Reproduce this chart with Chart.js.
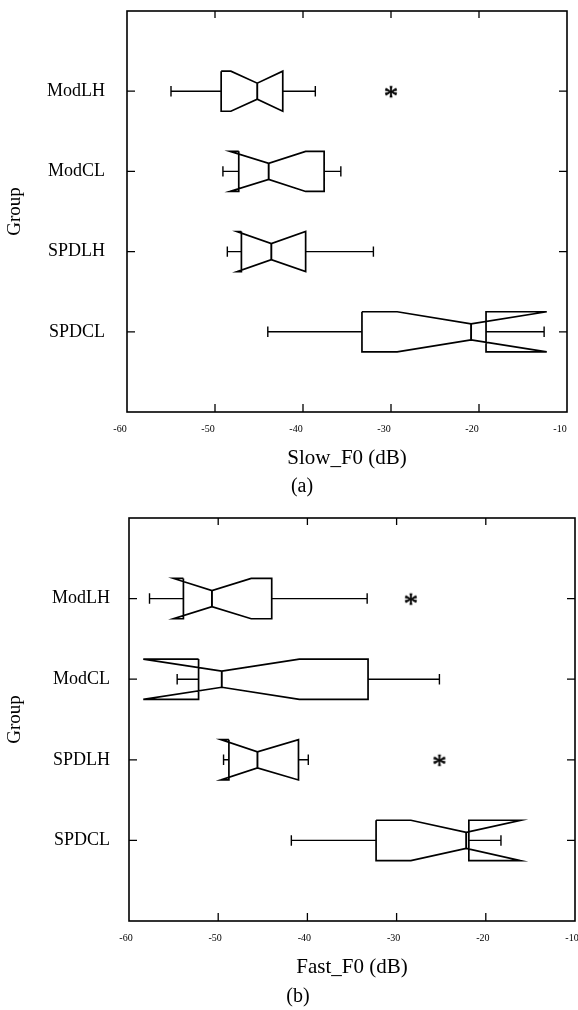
<!DOCTYPE html>
<html>
<head>
<meta charset="utf-8">
<script src="https://cdn.jsdelivr.net/npm/chart.js@4"></script>
<style>
  body { margin: 0; background: #fff; width: 578px; height: 1010px; position: relative; overflow: hidden; }
  canvas { position: absolute; left: 0; }
  .cap { position: absolute; font: 20px "Liberation Serif", serif; color: #000; width: 60px; text-align: center; line-height: 20px; will-change: transform; -webkit-font-smoothing: antialiased; }
</style>
</head>
<body>
<canvas id="slow" width="590" height="475" style="top:0"></canvas>
<div class="cap" style="left:272px; top:475px">(a)</div>
<canvas id="fast" width="590" height="494" style="top:490px"></canvas>
<div class="cap" style="left:268px; top:985px">(b)</div>
<script>
const groups = ['ModLH', 'ModCL', 'SPDLH', 'SPDCL'];
const xTicks = [-60, -50, -40, -30, -20, -10];

// (a) Slow_F0 (dB)
const slowMin     = [-55.0, -49.1, -48.6, -44.0];
const slowQ1      = [-49.3, -47.3, -47.0, -33.3];
const slowNotchLo = [-48.2, -48.3, -47.5, -29.3];
const slowMedian  = [-45.2, -43.9, -43.6, -20.9];
const slowNotchHi = [-42.3, -39.7, -39.7, -12.3];
const slowQ3      = [-42.3, -37.6, -39.7, -19.2];
const slowMax     = [-38.6, -35.7, -32.0, -12.6];
const slowOutGroup = ['ModLH'];
const slowOutValue = [-30.0];

// (b) Fast_F0 (dB)
const fastMin     = [-57.7, -54.6, -49.4, -41.8];
const fastQ1      = [-53.9, -52.2, -48.8, -32.3];
const fastNotchLo = [-55.0, -58.4, -49.7, -28.4];
const fastMedian  = [-50.7, -49.6, -45.6, -22.2];
const fastNotchHi = [-46.3, -40.9, -41.0, -16.1];
const fastQ3      = [-44.0, -33.2, -41.0, -21.9];
const fastMax     = [-33.3, -25.2, -39.9, -18.3];
const fastOutGroup = ['ModLH', 'SPDLH'];
const fastOutValue = [-28.4, -25.2];

// box half height, notch half height, whisker cap half height (category units)
const W = 0.25, N = 0.1, C = 0.065;
const serif = '"Liberation Serif", "Times New Roman", serif';

function starImage() {
  const c = document.createElement('canvas');
  c.width = 20; c.height = 20;
  const g = c.getContext('2d');
  g.font = '29px ' + serif;
  g.fillStyle = '#000';
  g.strokeStyle = '#000';
  g.lineWidth = 0.6;
  g.textAlign = 'center';
  const m = g.measureText('*');
  const by = 10 + (m.actualBoundingBoxAscent - m.actualBoundingBoxDescent) / 2;
  g.fillText('*', 10, by);
  g.strokeText('*', 10, by);
  return c;
}
const star = starImage();

function line(points, width) {
  return {
    data: points, showLine: true, fill: false, tension: 0,
    borderColor: '#000', borderWidth: width, pointRadius: 0
  };
}

const frame = {
  id: 'frame',
  afterDatasetsDraw(chart) {
    const {ctx, chartArea: a, scales: {x, y}} = chart;
    ctx.save();
    ctx.strokeStyle = '#000';
    ctx.lineWidth = 1.6;
    ctx.strokeRect(a.left, a.top, a.right - a.left, a.bottom - a.top);
    ctx.lineWidth = 1.3;
    ctx.beginPath();
    x.ticks.forEach(t => {
      const px = x.getPixelForValue(t.value);
      if (px <= a.left + 1 || px >= a.right - 1) return;
      ctx.moveTo(px, a.bottom); ctx.lineTo(px, a.bottom - 8);
      ctx.moveTo(px, a.top); ctx.lineTo(px, a.top + 7);
    });
    y.ticks.forEach(t => {
      const py = y.getPixelForValue(t.value);
      ctx.moveTo(a.left, py); ctx.lineTo(a.left + 8, py);
      ctx.moveTo(a.right, py); ctx.lineTo(a.right - 8, py);
    });
    ctx.stroke();
    ctx.restore();
  }
};

function makeChart(id, d, area) {
  const datasets = [];
  groups.forEach((g, i) => {
    const y = i + 1;
    datasets.push(line([
      {x: d.q1[i], y: y - W}, {x: d.q1[i], y: y + W},
      {x: d.lo[i], y: y + W}, {x: d.med[i], y: y + N},
      {x: d.hi[i], y: y + W}, {x: d.q3[i], y: y + W},
      {x: d.q3[i], y: y - W}, {x: d.hi[i], y: y - W},
      {x: d.med[i], y: y - N}, {x: d.lo[i], y: y - W},
      {x: d.q1[i], y: y - W}
    ], 1.7));
    datasets.push(line([{x: d.med[i], y: y - N}, {x: d.med[i], y: y + N}], 1.9));
    datasets.push(line([
      {x: d.min[i], y: y - C}, {x: d.min[i], y: y + C},
      {x: d.min[i], y: y}, {x: d.q1[i], y: y}
    ], 1.4));
    datasets.push(line([
      {x: d.q3[i], y: y}, {x: d.max[i], y: y},
      {x: d.max[i], y: y - C}, {x: d.max[i], y: y + C}
    ], 1.4));
  });
  datasets.push({
    data: d.outGroup.map((g, k) => ({x: d.outValue[k], y: groups.indexOf(g) + 1})),
    pointStyle: star, pointRadius: 9, showLine: false
  });

  return new Chart(document.getElementById(id), {
    type: 'scatter',
    data: {datasets},
    plugins: [frame],
    options: {
      responsive: false,
      animation: false,
      events: [],
      layout: {padding: {top: area.top, right: area.right, left: 0, bottom: 0}},
      plugins: {legend: {display: false}, tooltip: {enabled: false}},
      scales: {
        x: {
          type: 'linear', min: -60, max: -10,
          afterBuildTicks: s => { s.ticks = xTicks.map(v => ({value: v})); },
          afterFit: s => { s.height = area.xh; s.paddingLeft = 0; s.paddingRight = 0; },
          grid: {display: false, drawTicks: false},
          border: {display: false},
          ticks: {color: '#000', font: {family: serif, size: 10}, padding: 11, maxRotation: 0,
                  labelOffset: area.lo},
          title: {display: true, text: d.title, color: '#000', font: {family: serif, size: 21}, padding: {top: 0, bottom: 4}}
        },
        y: {
          type: 'linear', min: 0, max: 5, reverse: true,
          afterBuildTicks: s => { s.ticks = groups.map((g, i) => ({value: i + 1})); },
          afterFit: s => { s.width = area.left; s.paddingTop = 0; s.paddingBottom = 0; },
          grid: {display: false, drawTicks: false},
          border: {display: false},
          ticks: {color: '#000', font: {family: serif, size: 18}, padding: area.lp,
                  callback: v => groups[v - 1]},
          title: {display: true, text: 'Group', color: '#000', font: {family: serif, size: 19}, padding: {top: 4, bottom: 0}}
        }
      }
    }
  });
}

makeChart('slow', {
  title: 'Slow_F0 (dB)',
  min: slowMin, q1: slowQ1, lo: slowNotchLo, med: slowMedian, hi: slowNotchHi, q3: slowQ3, max: slowMax,
  outGroup: slowOutGroup, outValue: slowOutValue
}, {top: 11, right: 23, left: 127, xh: 63, lp: 22, lo: -7});

makeChart('fast', {
  title: 'Fast_F0 (dB)',
  min: fastMin, q1: fastQ1, lo: fastNotchLo, med: fastMedian, hi: fastNotchHi, q3: fastQ3, max: fastMax,
  outGroup: fastOutGroup, outValue: fastOutValue
}, {top: 28, right: 15, left: 129, xh: 63, lp: 19, lo: -3});
</script>
</body>
</html>
